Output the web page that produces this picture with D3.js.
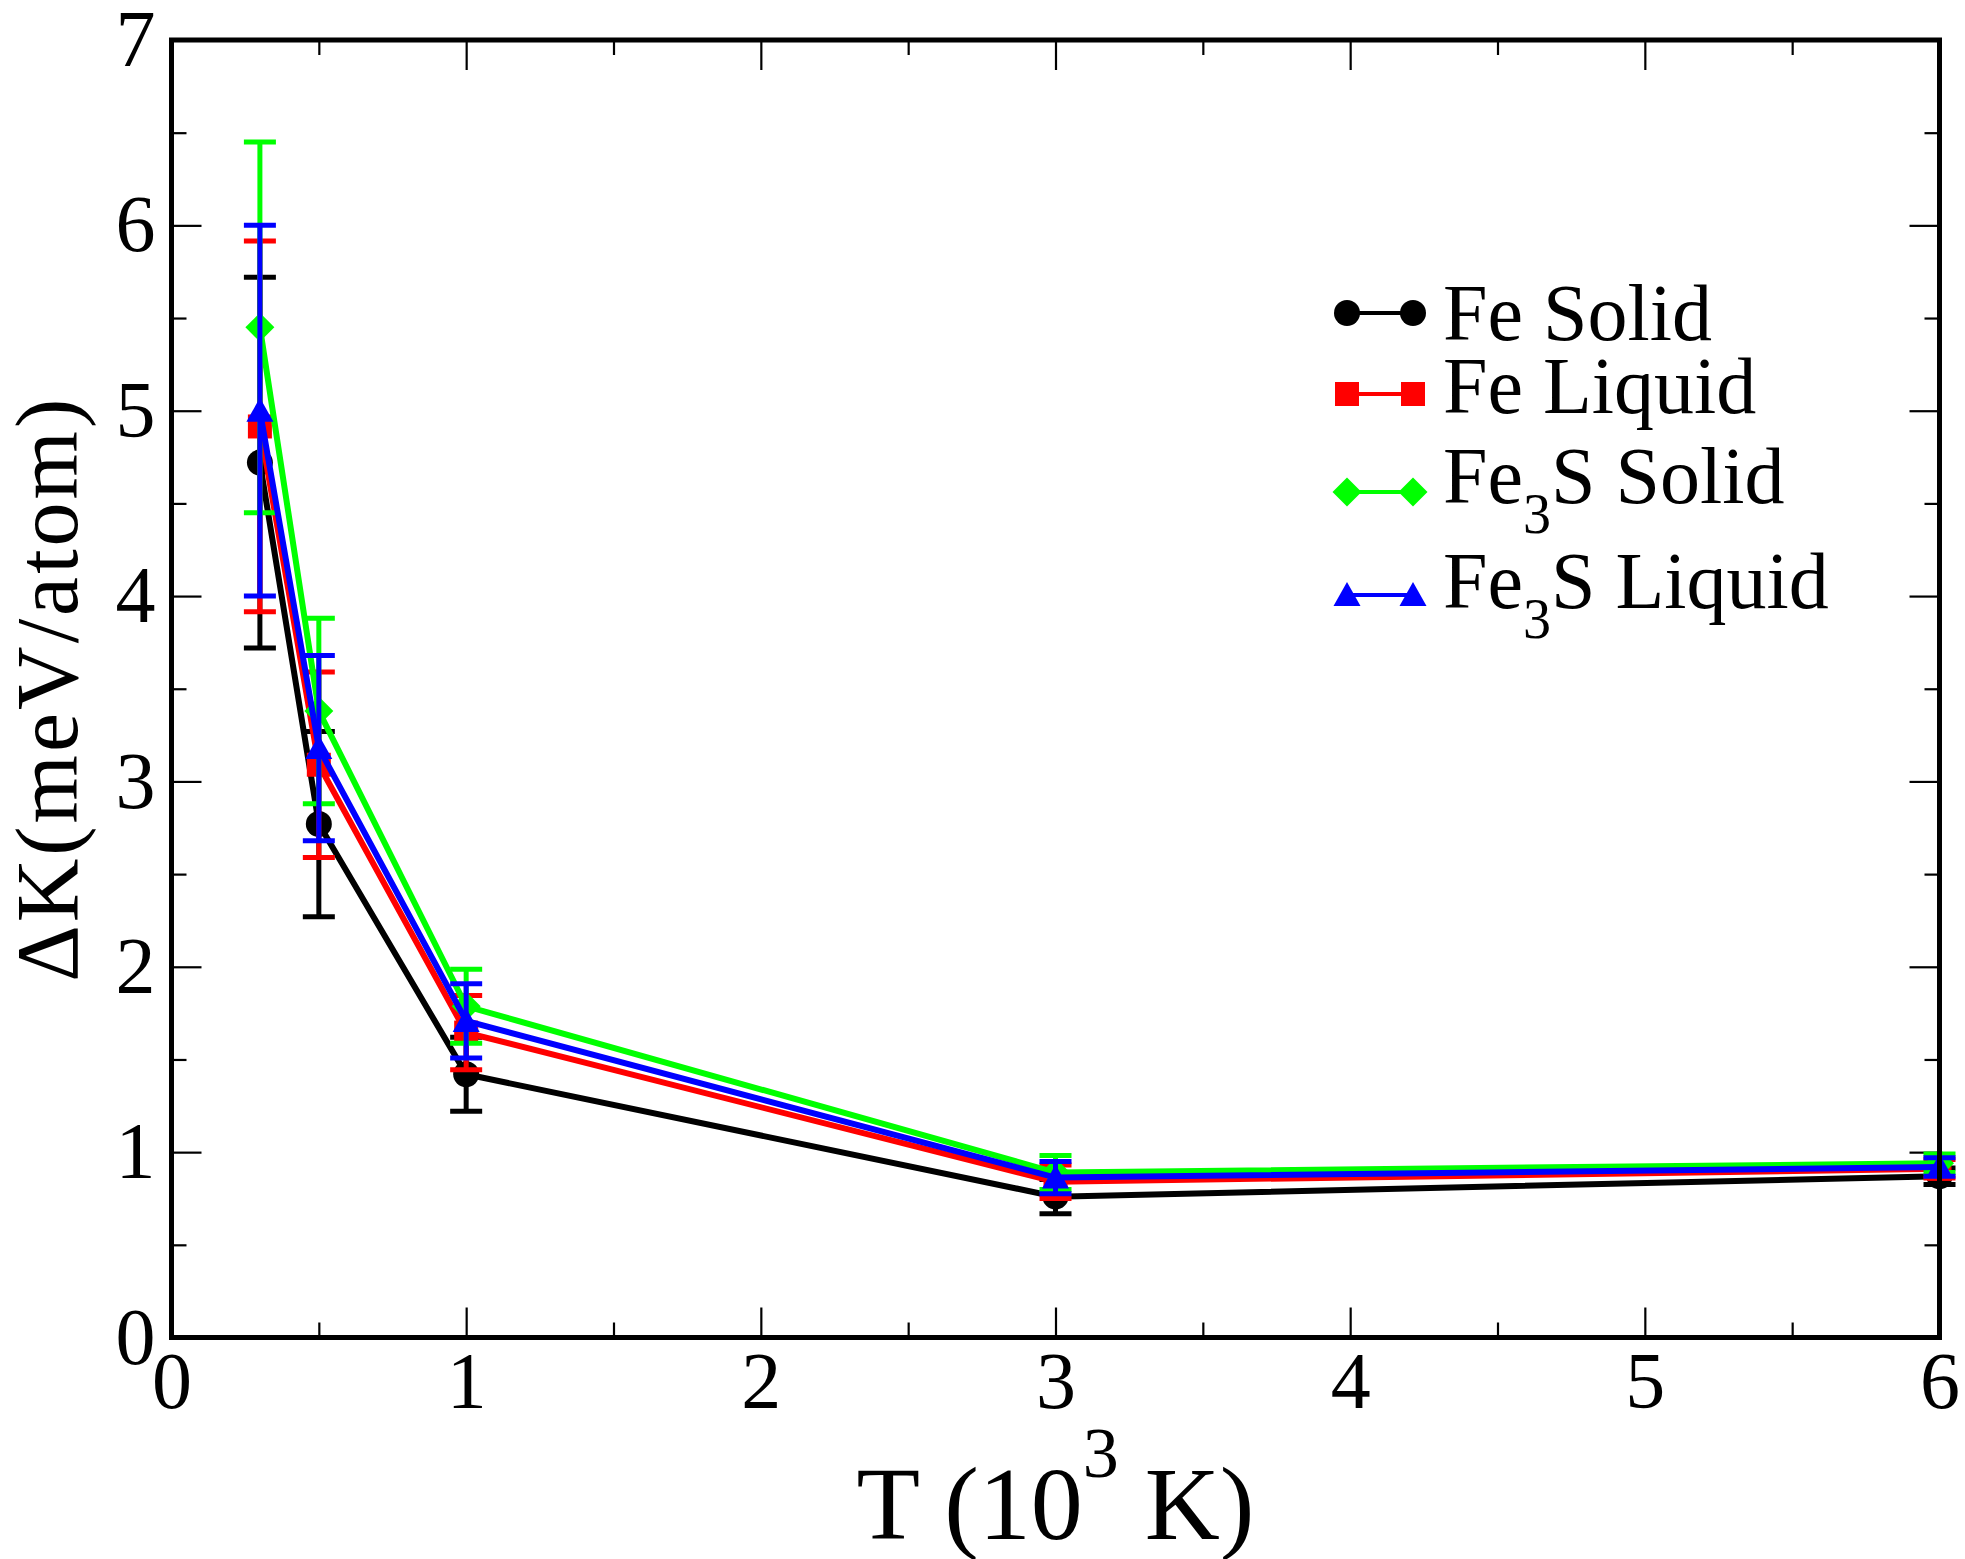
<!DOCTYPE html>
<html><head><meta charset="utf-8">
<script src="https://cdn.jsdelivr.net/npm/d3@7"></script>
<style>body{margin:0;background:#fff} svg{display:block} text{font-family:"Liberation Serif","Times New Roman",Times,serif}</style>
</head><body>
<script>
// ---------- data ----------
const temperatures = [0.3, 0.5, 1, 3, 6];
const feSolid       = [4.72, 2.77, 1.42, 0.76, 0.87];
const feSolidErr    = [1.0, 0.5, 0.2, 0.093, 0.045];
const feLiquid      = [4.915, 3.09, 1.645, 0.84, 0.91];
const feLiquidErr   = [1.0, 0.5, 0.2, 0.09, 0.05];
const fe3sSolid     = [5.45, 3.38, 1.787, 0.89, 0.94];
const fe3sSolidErr  = [1.0, 0.5, 0.2, 0.092, 0.05];
const fe3sLiquid    = [5.0, 3.18, 1.708, 0.863, 0.92];
const fe3sLiquidErr = [1.0, 0.5, 0.2, 0.087, 0.05];
const xTickValues = [0, 1, 2, 3, 4, 5, 6];
const yTickValues = [0, 1, 2, 3, 4, 5, 6, 7];
const xMinorTicks = [0.5, 1.5, 2.5, 3.5, 4.5, 5.5];
const yMinorTicks = [0.5, 1.5, 2.5, 3.5, 4.5, 5.5, 6.5];

const series = [
  {base: "Fe Solid",  sub: "", rest: "",        values: feSolid,    errs: feSolidErr,    color: "#000000", marker: "circle"},
  {base: "Fe Liquid", sub: "", rest: "",        values: feLiquid,   errs: feLiquidErr,   color: "#ff0000", marker: "square"},
  {base: "Fe",        sub: "3", rest: "S Solid",  values: fe3sSolid,  errs: fe3sSolidErr,  color: "#00ff00", marker: "diamond"},
  {base: "Fe",        sub: "3", rest: "S Liquid", values: fe3sLiquid, errs: fe3sLiquidErr, color: "#0000ff", marker: "triangle"}
];

// ---------- layout ----------
const W = 1965, H = 1559;
const m = {left: 171.5, top: 40, right: W - 1939.5, bottom: H - 1337.5};
const iw = W - m.left - m.right, ih = H - m.top - m.bottom;

const svg = d3.select("body").append("svg").attr("width", W).attr("height", H);
const g = svg.append("g").attr("transform", `translate(${m.left},${m.top})`);

const x = d3.scaleLinear().domain([0, 6]).range([0, iw]);
const y = d3.scaleLinear().domain([0, 7]).range([ih, 0]);

// ---------- axes ----------
function styleAxis(sel, labels) {
  sel.attr("font-family", null).attr("font-size", null);
  sel.select(".domain").remove();
  sel.selectAll(".tick line").attr("stroke", "#000").attr("stroke-width", 2.2);
  sel.selectAll(".tick text").style("font-size", "80px").attr("fill", "#000");
  if (!labels) sel.selectAll(".tick text").remove();
}
g.append("g").attr("transform", `translate(0,${ih})`)
  .call(d3.axisBottom(x).tickValues(xTickValues).tickFormat(d3.format("d")).tickSizeInner(-30).tickSizeOuter(0).tickPadding(14))
  .call(s => styleAxis(s, true));
g.append("g").attr("transform", `translate(0,${ih})`)
  .call(d3.axisBottom(x).tickValues(xMinorTicks).tickSizeInner(-15).tickSizeOuter(0))
  .call(s => styleAxis(s, false));
g.append("g")
  .call(d3.axisTop(x).tickValues(xTickValues).tickSizeInner(-30).tickSizeOuter(0))
  .call(s => styleAxis(s, false));
g.append("g")
  .call(d3.axisTop(x).tickValues(xMinorTicks).tickSizeInner(-15).tickSizeOuter(0))
  .call(s => styleAxis(s, false));
g.append("g")
  .call(d3.axisLeft(y).tickValues(yTickValues).tickFormat(d3.format("d")).tickSizeInner(-30).tickSizeOuter(0).tickPadding(16))
  .call(s => styleAxis(s, true));
g.append("g")
  .call(d3.axisLeft(y).tickValues(yMinorTicks).tickSizeInner(-15).tickSizeOuter(0))
  .call(s => styleAxis(s, false));
g.append("g").attr("transform", `translate(${iw},0)`)
  .call(d3.axisRight(y).tickValues(yTickValues).tickSizeInner(-30).tickSizeOuter(0))
  .call(s => styleAxis(s, false));
g.append("g").attr("transform", `translate(${iw},0)`)
  .call(d3.axisRight(y).tickValues(yMinorTicks).tickSizeInner(-15).tickSizeOuter(0))
  .call(s => styleAxis(s, false));

// ---------- markers ----------
function markerPath(type) {
  switch (type) {
    case "circle":   return d3.symbol(d3.symbolCircle, Math.PI * 13 * 13)();
    case "square":   return "M-12,-12H12V12H-12Z";
    case "diamond":  return "M0,-14.5L14.5,0L0,14.5L-14.5,0Z";
    case "triangle": return "M0,-13L13.5,11L-13.5,11Z";
  }
}

// ---------- series ----------
const line = d3.line().x(d => x(d[0])).y(d => y(d[1]));
series.forEach(s => {
  const pts = temperatures.map((t, i) => [t, s.values[i], s.errs[i]]);
  const sg = g.append("g");
  sg.append("path").attr("d", line(pts)).attr("fill", "none")
    .attr("stroke", s.color).attr("stroke-width", 6).attr("stroke-linejoin", "miter");
  sg.selectAll(".m").data(pts).join("path")
    .attr("transform", d => `translate(${x(d[0])},${y(d[1])})`)
    .attr("d", markerPath(s.marker)).attr("fill", s.color);
  const eb = sg.selectAll(".eb").data(pts).join("g").attr("stroke", s.color).attr("stroke-width", 5);
  eb.append("line").attr("x1", d => x(d[0])).attr("x2", d => x(d[0]))
    .attr("y1", d => y(d[1] - d[2])).attr("y2", d => y(d[1] + d[2]));
  eb.append("line").attr("x1", d => x(d[0]) - 16).attr("x2", d => x(d[0]) + 16)
    .attr("y1", d => y(d[1] + d[2])).attr("y2", d => y(d[1] + d[2]));
  eb.append("line").attr("x1", d => x(d[0]) - 16).attr("x2", d => x(d[0]) + 16)
    .attr("y1", d => y(d[1] - d[2])).attr("y2", d => y(d[1] - d[2]));
});

// ---------- frame ----------
g.append("rect").attr("x", 0).attr("y", 0).attr("width", iw).attr("height", ih)
  .attr("fill", "none").attr("stroke", "#000").attr("stroke-width", 5);

// ---------- axis titles ----------
const xt = svg.append("text").attr("x", m.left + iw / 2).attr("y", 1539)
  .attr("text-anchor", "middle").style("font-size", "104px").attr("fill", "#000");
xt.append("tspan").text("T (10");
xt.append("tspan").style("font-size", "72px").attr("dy", -62).text("3");
xt.append("tspan").attr("dy", 62).text(" K)");

svg.append("text").attr("transform", `translate(77,${m.top + ih / 2}) rotate(-90)`)
  .attr("text-anchor", "middle").style("font-size", "88px")
  .style("letter-spacing", "3px").attr("fill", "#000").text("ΔK(meV/atom)");

// ---------- legend ----------
const legendSymY = [313, 394, 492, 595];
const legendTextY = [340, 413, 503, 608];
const lg = svg.append("g");
series.forEach((s, i) => {
  const row = lg.append("g");
  row.append("line").attr("x1", 1347).attr("x2", 1413).attr("y1", legendSymY[i]).attr("y2", legendSymY[i])
    .attr("stroke", s.color).attr("stroke-width", 4);
  [1347, 1413].forEach(px => row.append("path").attr("d", markerPath(s.marker))
    .attr("transform", `translate(${px},${legendSymY[i]})`).attr("fill", s.color));
  const t = row.append("text").attr("x", 1443).attr("y", legendTextY[i])
    .style("font-size", "80px").attr("fill", "#000");
  if (s.sub) {
    t.append("tspan").text(s.base);
    t.append("tspan").style("font-size", "56px").attr("dy", 30).text(s.sub);
    t.append("tspan").attr("dy", -30).text(s.rest);
  } else {
    t.text(s.base);
  }
});
</script>
</body></html>
